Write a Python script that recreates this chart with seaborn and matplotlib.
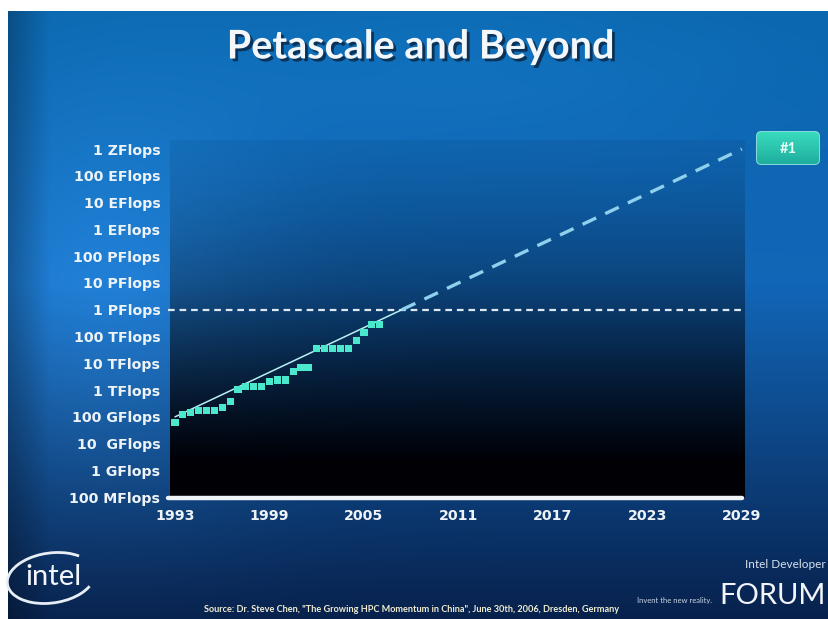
import numpy as np
import matplotlib
matplotlib.use("Agg")
import matplotlib.pyplot as plt
import matplotlib.patheffects as pe
from matplotlib.patches import FancyBboxPatch, Arc
import seaborn as sns

# Top500 #1 performance, half-yearly lists (GFlops)
list_years = [1993.0, 1993.5, 1994.0, 1994.5, 1995.0, 1995.5, 1996.0, 1996.5,
              1997.0, 1997.5, 1998.0, 1998.5, 1999.0, 1999.5, 2000.0, 2000.5,
              2001.0, 2001.5, 2002.0, 2002.5, 2003.0, 2003.5, 2004.0, 2004.5,
              2005.0, 2005.5, 2006.0]
top1_gflops = [59.7, 124.5, 143.4, 170.4, 170.4, 170.4, 220.4, 368.2,
               1068, 1338, 1338, 1338, 2121, 2379, 2379, 4938,
               7226, 7226, 35860, 35860, 35860, 35860, 35860, 70720,
               136800, 280600, 280600]

# Projected trend: measured part and extrapolation
trend_years_solid = [1993.0, 2007.4]
trend_flops_solid = [1e11, 1e15]
trend_years_proj = [2007.4, 2029.0]
trend_flops_proj = [1e15, 1e21]

petaflop_level = 1e15

year_ticks = [1993, 1999, 2005, 2011, 2017, 2023, 2029]
flops_ticks = [10.0 ** k for k in range(8, 22)]
flops_labels = ["100 MFlops", "1 GFlops", "10  GFlops", "100 GFlops",
                "1 TFlops", "10 TFlops", "100 TFlops", "1 PFlops",
                "10 PFlops", "100 PFlops", "1 EFlops", "10 EFlops",
                "100 EFlops", "1 ZFlops"]

title_text = "Petascale and Beyond"
badge_text = "#1"
source_text = ('Source: Dr. Steve Chen, "The Growing HPC Momentum in China", '
               'June 30th, 2006, Dresden, Germany')

sns.set_theme(style="white")
plt.rcParams["font.family"] = ["Lato", "DejaVu Sans"]

W, H = 829, 619
fig = plt.figure(figsize=(W / 100, H / 100), dpi=100, facecolor="white")

# ---- slide background (pixel coordinates) ----
bg = fig.add_axes([0, 0, 1, 1])
bg.set_xlim(0, W)
bg.set_ylim(H, 0)
bg.axis("off")

gh, gw = 240, 320
v, u = np.mgrid[0:1:gh * 1j, 0:1:gw * 1j]
top = np.array([0.04, 0.40, 0.68])
mid = np.array([0.07, 0.40, 0.72])
bot = np.array([0.03, 0.13, 0.30])
t = v[..., None]
base = np.where(t < 0.45,
                top + (mid - top) * (t / 0.45),
                mid + (bot - mid) * ((t - 0.45) / 0.55))
glow = np.exp(-(((u - 0.12) / 0.20) ** 2 + ((v - 0.48) / 0.35) ** 2))[..., None]
base = base + glow * np.array([0.06, 0.10, 0.12])
glow2 = np.exp(-(((u - 0.55) / 0.35) ** 2 + ((v - 0.10) / 0.15) ** 2))[..., None]
base = base + glow2 * np.array([0.02, 0.04, 0.05])
edge = np.clip(1 - u / 0.05, 0, 1)[..., None]
base = base * (1 - 0.25 * edge)
bg.imshow(np.clip(base, 0, 1), extent=[8, W, H, 11], aspect="auto",
          interpolation="bilinear", zorder=0)

# dark panel behind the chart, fading in towards the bottom
ph = 200
tt = np.linspace(0, 1, ph)
alpha = np.clip(0.06 + 1.1 * tt ** 1.5, 0, 1)
panel = np.zeros((ph, 2, 4))
panel[..., 2] = 0.02
panel[..., 3] = alpha[:, None]
bg.imshow(panel, extent=[170, 745, 498, 140], aspect="auto",
          interpolation="bilinear", zorder=1)

# ---- chart axes ----
ax = fig.add_axes([170 / W, (H - 498) / H, 575 / W, 358 / H])
ax.patch.set_alpha(0)
ax.set_yscale("log")

sns.lineplot(x=trend_years_solid, y=trend_flops_solid, ax=ax, color="#b8f0f4",
             lw=1.1, sort=False, estimator=None, zorder=3)
sns.lineplot(x=trend_years_proj, y=trend_flops_proj, ax=ax, color="#8fd0ec",
             lw=2.4, linestyle=(0, (4.5, 3)), sort=False, estimator=None,
             zorder=3)
ax.axhline(petaflop_level, xmin=-0.004, xmax=0.995, color="#dde8f2", lw=1.6,
           linestyle=(0, (3, 2.2)), zorder=2, clip_on=False)
sns.scatterplot(x=list_years, y=[g * 1e9 for g in top1_gflops], ax=ax,
                marker="s", s=26, color="#4ae8cc", edgecolor="none",
                zorder=4)

ax.set_xlim(1992.68, 2029.2)
ax.set_ylim(10 ** 7.97, 10 ** 21.34)
ax.set_xticks(year_ticks)
ax.set_xticklabels([str(y) for y in year_ticks])
ax.set_yticks(flops_ticks)
ax.set_yticklabels(flops_labels)
ax.minorticks_off()
ax.tick_params(axis="both", length=0, colors="#eef3f8")
ax.tick_params(axis="y", pad=7)
ax.tick_params(axis="x", pad=8)
for lab in ax.get_yticklabels():
    lab.set_fontfamily("DejaVu Sans")
    lab.set_fontweight("bold")
    lab.set_fontsize(10.2)
    lab.set_color("#eef3f8")
for lab in ax.get_xticklabels():
    lab.set_fontfamily("DejaVu Sans")
    lab.set_fontweight("bold")
    lab.set_fontsize(10.2)
    lab.set_color("#eef3f8")
for s in ["top", "right", "left", "bottom"]:
    ax.spines[s].set_visible(False)
ax.set_xlabel("")
ax.set_ylabel("")

# white base line along the time axis
bg.plot([168, 742], [498, 498], color="#eef4fa", lw=3.2,
        solid_capstyle="round", zorder=5)

# ---- title ----
bg.text(421, 47, title_text, ha="center", va="center", fontsize=28.5,
        fontweight="bold", color="#f4f7fa", zorder=6,
        path_effects=[pe.withSimplePatchShadow(offset=(2, -2),
                                               shadow_rgbFace="#0a2440",
                                               alpha=0.8)])

# ---- "#1" badge at the end of the projection ----
badge = FancyBboxPatch((757, 132), 62, 32, boxstyle="round,pad=0,rounding_size=4",
                       facecolor="#2cc6ae", edgecolor="#9ff0e2", lw=1.2, zorder=6)
bg.add_patch(badge)
bgrad = np.linspace(0, 1, 50)[:, None, None] * np.array([-0.10, -0.18, -0.12]) \
    + np.array([0.22, 0.86, 0.74])
bimg = bg.imshow(np.clip(np.repeat(bgrad, 2, axis=1), 0, 1),
                 extent=[757, 819, 164, 132], aspect="auto", zorder=6)
bimg.set_clip_path(badge)
bg.text(788, 149, badge_text, ha="center", va="center", fontsize=10.5,
        fontweight="bold", color="#e8fff8", zorder=7)

# ---- footer ----
bg.text(53, 577, "intel", ha="center", va="center", fontsize=21,
        color="#f2f6fa", zorder=6)
bg.add_patch(Arc((51, 578), 88, 50, angle=-8, theta1=20, theta2=330,
                 color="#e8eef6", lw=2.0, zorder=6))
bg.text(826, 565, "Intel Developer", ha="right", va="center", fontsize=8.5,
        color="#d8e2ee", zorder=6)
bg.text(826, 596, "FORUM", ha="right", va="center", fontsize=21,
        color="#f2f6fa", zorder=6)
bg.text(712, 601, "Invent the new reality.", ha="right", va="center",
        fontsize=5.5, color="#c8d4e4", zorder=6)
bg.text(412, 609, source_text, ha="center", va="center", fontsize=6.6,
        fontweight="bold", color="#f0ecd0", zorder=6)

fig.savefig("out.png", dpi=100, facecolor="white")
